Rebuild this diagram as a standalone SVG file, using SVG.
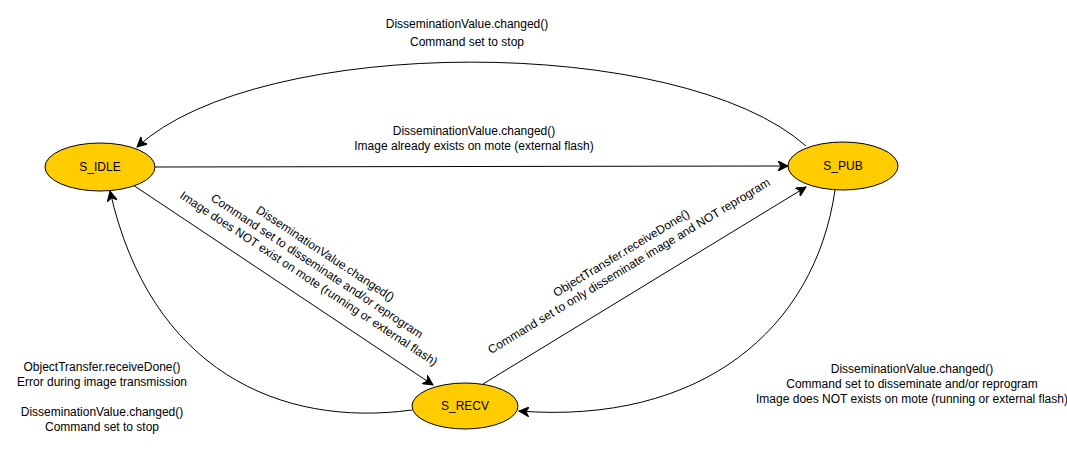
<svg xmlns="http://www.w3.org/2000/svg" width="1067" height="450" viewBox="0 0 1067 450">
<style>
  .node ellipse { fill: #ffcc00; stroke: #000; stroke-width: 1; }
  text { font-family: "Liberation Sans", Arial, sans-serif; font-size: 12px; fill: #000; }
  .lbl { text-anchor: middle; }
  .edge { fill: none; stroke: #000; stroke-width: 1; marker-end: url(#arr); }
</style>
<defs>
  <marker id="arr" markerWidth="12" markerHeight="10" refX="10" refY="5" orient="auto" markerUnits="userSpaceOnUse">
    <path d="M0,0 L10,5 L0,10 L3,5 Z" fill="#000" stroke="#000" stroke-width="1"/>
  </marker>
</defs>
<rect width="1067" height="450" fill="#fff"/>
<g id="connectors">
  <path class="edge" d="M806,146 C 680,34 260,34 137,147"/>
  <path class="edge" d="M155,167 L788,166"/>
  <path class="edge" d="M133,185 L433,385"/>
  <path class="edge" d="M483,384 L806,187"/>
  <path class="edge" d="M412,410 C 280,428 150,370 110,191"/>
  <path class="edge" d="M835,190 C 815,330 700,425 519,411"/>
</g>
<g id="labels">
  <text class="lbl" x="467" y="28">DisseminationValue.changed()</text>
  <text class="lbl" x="467" y="46">Command set to stop</text>
  <text class="lbl" x="474" y="135">DisseminationValue.changed()</text>
  <text class="lbl" x="474" y="150">Image already exists on mote (external flash)</text>
  <text class="lbl" x="912" y="373">DisseminationValue.changed()</text>
  <text class="lbl" x="912" y="388">Command set to disseminate and/or reprogram</text>
  <text class="lbl" x="912" y="403">Image does NOT exists on mote (running or external flash)</text>
  <text class="lbl" x="102" y="371">ObjectTransfer.receiveDone()</text>
  <text class="lbl" x="102" y="386">Error during image transmission</text>
  <text class="lbl" x="102" y="416">DisseminationValue.changed()</text>
  <text class="lbl" x="102" y="431">Command set to stop</text>
  <g transform="translate(317,266) rotate(33.5)">
    <text class="lbl" x="0" y="-11">DisseminationValue.changed()</text>
    <text class="lbl" x="0" y="4">Command set to disseminate and/or reprogram</text>
    <text class="lbl" x="0" y="19">Image does NOT exist on mote (running or external flash)</text>
  </g>
  <g transform="translate(629,266) rotate(-31.2)">
    <text class="lbl" x="0" y="-11">ObjectTransfer.receiveDone()</text>
    <text class="lbl" x="0" y="4">Command set to only disseminate image and NOT reprogram</text>
  </g>
</g>
<g id="S_IDLE" class="node">
  <ellipse cx="100" cy="167" rx="55" ry="24"/>
  <text class="lbl" x="100" y="171">S_IDLE</text>
</g>
<g id="S_PUB" class="node">
  <ellipse cx="843" cy="166" rx="55" ry="24"/>
  <text class="lbl" x="843" y="170">S_PUB</text>
</g>
<g id="S_RECV" class="node">
  <ellipse cx="465" cy="406" rx="53" ry="23"/>
  <text class="lbl" x="465" y="410">S_RECV</text>
</g>
</svg>
